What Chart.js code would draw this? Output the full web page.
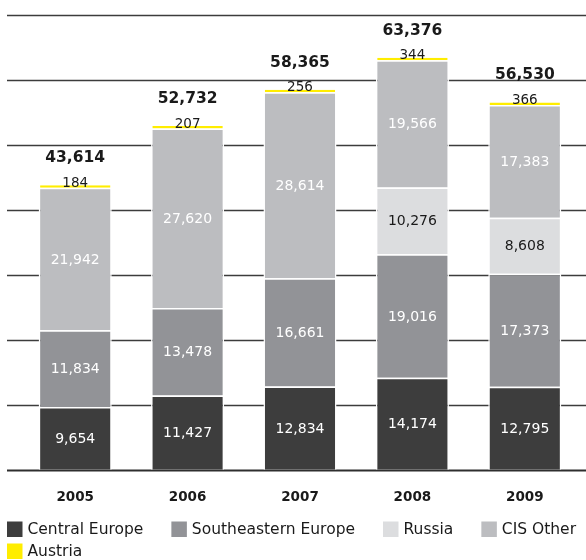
<!DOCTYPE html>
<html>
<head>
<meta charset="utf-8">
<script src="https://cdn.jsdelivr.net/npm/chart.js@4"></script>
<style>
body { margin: 0; background: #fff; }
#wrap { width: 586px; height: 560px; position: relative; }
</style>
</head>
<body>
<div id="wrap"><canvas id="myChart"></canvas></div>
<script>
var years = ["2005", "2006", "2007", "2008", "2009"];
var centralEurope = [9654, 11427, 12834, 14174, 12795];
var southeasternEurope = [11834, 13478, 16661, 19016, 17373];
var russia = [null, null, null, 10276, 8608];
var cisOther = [21942, 27620, 28614, 19566, 17383];
var austria = [184, 207, 256, 344, 366];
var totals = [43614, 52732, 58365, 63376, 56530];
var gridValues = [0, 10000, 20000, 30000, 40000, 50000, 60000, 70000];

var FONT = "'DejaVu Sans'";
Chart.defaults.font.family = FONT;

function fmt(v) {
	return v.toLocaleString("en-US");
}

// horizontal rules, wider than the plot area
var gridPlugin = {
	id: "gridLines",
	beforeDatasetsDraw: function (chart) {
		var ctx = chart.ctx;
		var y = chart.scales.y;
		ctx.save();
		gridValues.forEach(function (v) {
			var py = Math.round(y.getPixelForValue(v)) + 0.5;
			ctx.beginPath();
			ctx.lineWidth = v === 0 ? 2 : 1.3;
			ctx.strokeStyle = v === 0 ? "#2e2e2e" : "#3c3c3c";
			ctx.moveTo(7, py);
			ctx.lineTo(586, py);
			ctx.stroke();
		});
		ctx.restore();
	},
};

var labelPlugin = {
	id: "barLabels",
	afterDatasetsDraw: function (chart) {
		var ctx = chart.ctx;
		ctx.save();
		ctx.textAlign = "center";
		chart.data.datasets.forEach(function (ds, di) {
			var meta = chart.getDatasetMeta(di);
			meta.data.forEach(function (bar, i) {
				var v = ds.data[i];
				if (v == null) return;
				if (di === 4) {
					ctx.textBaseline = "alphabetic";
					ctx.fillStyle = "#1a1a1a";
					ctx.font = "13.5px " + FONT;
					ctx.fillText(fmt(v), bar.x, bar.y + 1.5);
					ctx.font = "bold 15.5px " + FONT;
					ctx.fillText(fmt(totals[i]), bar.x, bar.y - 23);
				} else {
					ctx.textBaseline = "middle";
					ctx.fillStyle = ds.labelColor;
					ctx.font = "14px " + FONT;
					ctx.fillText(fmt(v), bar.x, (bar.y + bar.base) / 2 + 1);
				}
			});
		});
		ctx.restore();
	},
};

// flowing legend, left aligned
var legendPlugin = {
	id: "flowLegend",
	afterDraw: function (chart) {
		var ctx = chart.ctx;
		ctx.save();
		ctx.font = "15.5px " + FONT;
		ctx.textBaseline = "middle";
		ctx.textAlign = "left";
		var x = 7;
		var y = 529;
		chart.data.datasets.forEach(function (ds) {
			var w = 15.5 + 5 + ctx.measureText(ds.label).width;
			if (x + w > 586) {
				x = 7;
				y += 22;
			}
			ctx.fillStyle = ds.backgroundColor;
			ctx.fillRect(x, y - 7.5, 15.5, 15.5);
			ctx.fillStyle = "#1a1a1a";
			ctx.fillText(ds.label, x + 20.5, y + 1);
			x += w + 28;
		});
		ctx.restore();
	},
};

var segBorder = { top: 1.5, left: 1.5, right: 1.5, bottom: 0 };

var ctx = document.getElementById("myChart").getContext("2d");
var chart = new Chart(ctx, {
	type: "bar",
	data: {
		labels: years,
		datasets: [
			{ label: "Central Europe", data: centralEurope, backgroundColor: "#3d3d3d", labelColor: "#fff" },
			{ label: "Southeastern Europe", data: southeasternEurope, backgroundColor: "#929397", labelColor: "#fff" },
			{ label: "Russia", data: russia, backgroundColor: "#dcdddf", labelColor: "#1a1a1a" },
			{ label: "CIS Other", data: cisOther, backgroundColor: "#bcbdc0", labelColor: "#fff" },
			{
				label: "Austria",
				data: austria,
				backgroundColor: "#ffed00",
				borderWidth: { top: 0, left: 1.5, right: 1.5, bottom: 0 },
				minBarLength: 2.5,
			},
		].map(function (d) {
			if (!d.borderWidth) d.borderWidth = segBorder;
			d.borderColor = "#fff";
			d.borderSkipped = false;
			d.categoryPercentage = 1;
			d.barPercentage = 0.65;
			return d;
		}),
	},
	options: {
		responsive: true,
		maintainAspectRatio: false,
		animation: false,
		layout: {
			padding: { left: 19, right: 5, top: 15, bottom: 34 },
		},
		scales: {
			x: {
				stacked: true,
				grid: { display: false, drawTicks: false },
				border: { display: false },
				ticks: {
					color: "#1a1a1a",
					padding: 20,
					font: { size: 13.5, weight: "bold" },
				},
			},
			y: {
				stacked: true,
				display: false,
				min: 0,
				max: 70000,
			},
		},
		plugins: {
			legend: { display: false },
			tooltip: { enabled: false },
		},
	},
	plugins: [gridPlugin, labelPlugin, legendPlugin],
});
</script>
</body>
</html>
